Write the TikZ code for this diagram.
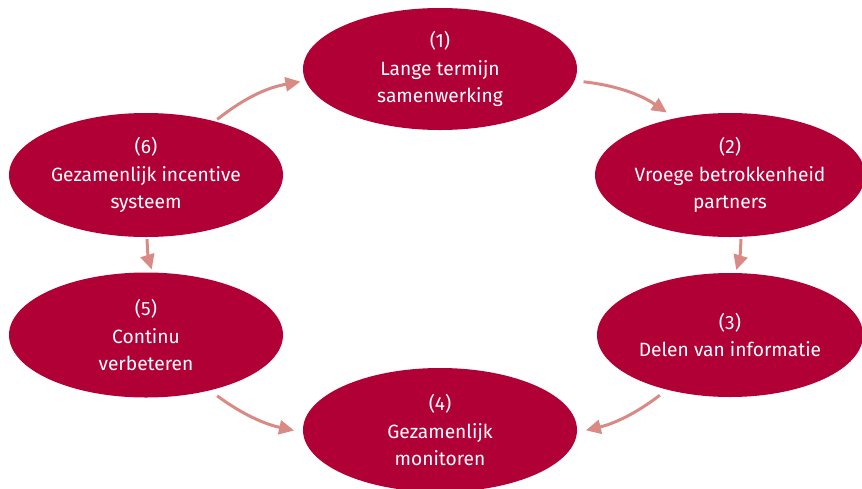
\documentclass[tikz,border=0pt]{standalone}
\usepackage{fontspec}
\setmainfont{Fira Sans}
\usetikzlibrary{shapes.geometric,arrows.meta}
\definecolor{berry}{HTML}{B10035}
\definecolor{salmon}{HTML}{DA8A85}
\begin{document}
\begin{tikzpicture}[x=1pt,y=1pt,
  stage/.style={ellipse, fill=berry, text=white, inner sep=0pt,
    minimum width=274pt, minimum height=122pt, align=center,
    font=\fontsize{19.2}{27.5}\selectfont},
  flow/.style={draw=salmon, line width=3pt,
    -{Triangle[length=15pt,width=14pt]}}]
\useasboundingbox (0,0) rectangle (862,-488);
% the six stages of the cycle
\node[stage] (s1) at (440,-69)  {(1)\\Lange termijn\\samenwerking};
\node[stage, minimum width=266pt, minimum height=124pt] (s2) at (730,-175) {(2)\\Vroege betrokkenheid\\partners};
\node[stage, minimum width=266pt, minimum height=124pt] (s3) at (730,-335) {(3)\\Delen van informatie};
\node[stage, minimum height=124pt] (s4) at (440,-430) {(4)\\Gezamenlijk\\monitoren};
\node[stage, minimum height=125pt] (s5) at (146,-335) {(5)\\Continu\\verbeteren};
\node[stage, minimum height=124pt] (s6) at (146,-175) {(6)\\Gezamenlijk incentive\\systeem};
% curved arrows between the stages
\draw[flow, shorten <=3pt, shorten >=5pt] (s6.38) to[bend left=14] (s1.185);
\draw[flow, shorten <=9pt, shorten >=10pt] (s1.-5) to[bend left=14] (s2.134);
\draw[flow, shorten <=2pt, shorten >=3pt] (s2.-80) to[bend left=8] (s3.85);
\draw[flow, shorten <=9pt, shorten >=9pt] (s3.221) to[bend left=12] (s4.-1);
\draw[flow, shorten <=2pt, shorten >=3pt] (s6.-89) to[bend right=8] (s5.84);
\draw[flow, shorten <=9pt, shorten >=9pt] (s5.-41) to[bend right=12] (s4.181);
\end{tikzpicture}
\end{document}
